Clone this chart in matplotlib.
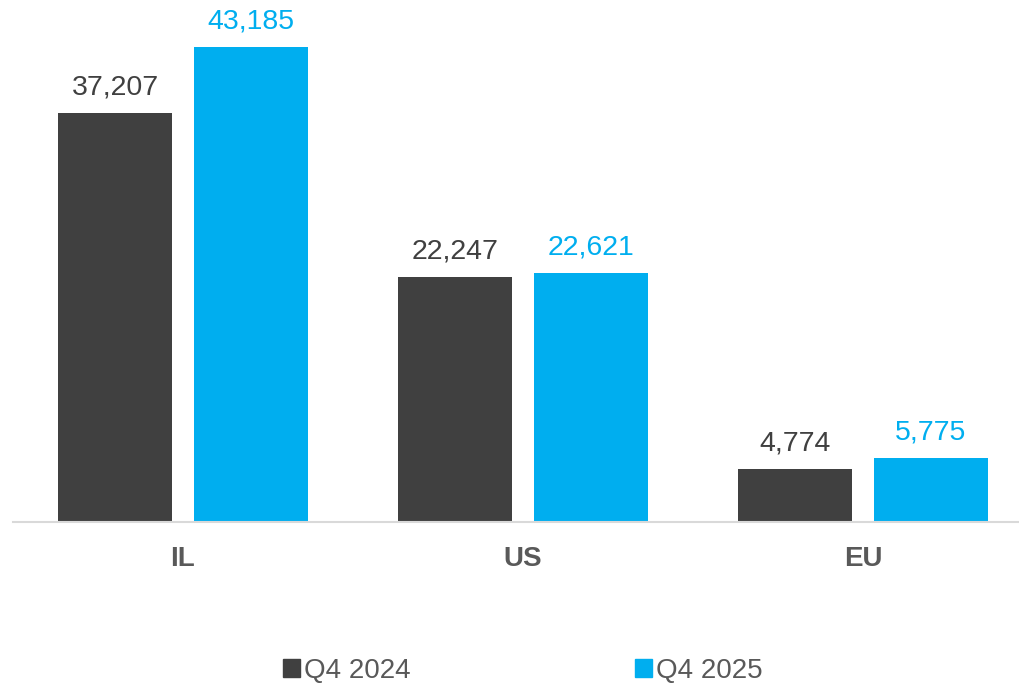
import matplotlib.pyplot as plt
import numpy as np
from matplotlib.patches import Patch

plt.rcParams["font.family"] = ["Liberation Sans", "DejaVu Sans"]

CATEGORIES = ["IL", "US", "EU"]
SERIES = ["Q4 2024", "Q4 2025"]
Q4_2024 = [37207, 22247, 4774]
Q4_2025 = [43185, 22621, 5775]

DARK = "#404040"
BLUE = "#00AEEF"


def main() -> None:
    fig = plt.figure(figsize=(10.2, 6.88), dpi=100)
    ax = fig.add_axes([13 / 1020, 166 / 688, 1007 / 1020, 522 / 688])

    x = np.arange(len(CATEGORIES))
    width = 0.335
    offset = 0.2
    b1 = ax.bar(x - offset, Q4_2024, width, color=DARK, label=SERIES[0])
    b2 = ax.bar(x + offset, Q4_2025, width, color=BLUE, label=SERIES[1])

    for bars, color in [(b1, DARK), (b2, BLUE)]:
        for bar in bars:
            h = bar.get_height()
            ax.annotate(f"{h:,.0f}", (bar.get_x() + bar.get_width() / 2, h),
                        xytext=(0, 9), textcoords="offset points",
                        ha="center", va="bottom", fontsize=20.5, color=color)

    ax.set_xlim(-0.5, 2.5 - 13 / 340)
    ax.set_ylim(0, 47455)
    ax.set_yticks([])
    ax.set_xticks(x)
    ax.set_xticklabels(CATEGORIES, fontsize=20, fontweight="bold", color="#595959")
    ax.tick_params(axis="x", length=0, pad=17)
    for side in ["top", "right", "left"]:
        ax.spines[side].set_visible(False)
    ax.spines["bottom"].set_color("#D9D9D9")
    ax.spines["bottom"].set_linewidth(1.5)

    handles = [Patch(color=DARK), Patch(color=BLUE)]
    fig.legend(handles, SERIES, loc="center", bbox_to_anchor=(523 / 1020, 1 - 671 / 688),
               ncol=2, frameon=False, fontsize=20, labelcolor="#595959",
               handlelength=0.6, handleheight=0.6, handletextpad=0.15, columnspacing=8.1)

    fig.savefig("out.png", dpi=100)


if __name__ == "__main__":
    main()
